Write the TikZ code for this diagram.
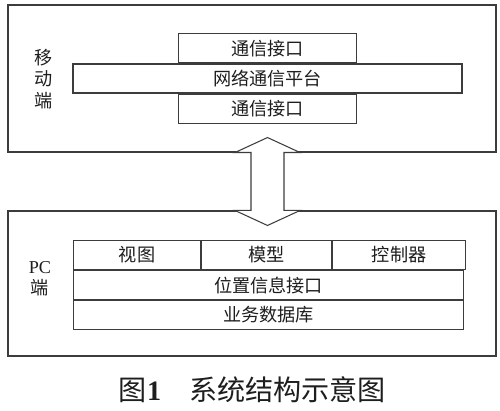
\documentclass[tikz,border=0pt]{standalone}
\usepackage{fontspec}
\setmainfont{Liberation Serif}
\newfontfamily\cjk{Noto Sans CJK SC}
\usetikzlibrary{positioning, calc}
\definecolor{FigLine}{RGB}{60, 60, 60}
\definecolor{FigText}{RGB}{30, 30, 30}

\begin{document}
\begin{tikzpicture}[y=-1cm,
    frame/.style={draw=FigLine, line width=0.9pt, fill=white, inner sep=0pt},
    layerbox/.style={draw=FigLine, line width=0.9pt, fill=white, inner sep=0pt,
      minimum height=0.87cm, text=FigText, font=\cjk\fontsize{15.5}{17}\selectfont},
    sidelabel/.style={align=center, text=FigText, font=\cjk\fontsize{15.5}{18.3}\selectfont},
    blockarrow/.style={draw=FigLine, line width=0.9pt, fill=white}
  ]
  \useasboundingbox (0,0) rectangle (15,12.33);

  % mobile side
  \node[frame, minimum width=14.64cm, minimum height=4.41cm] (mobile) at (7.56,2.355) {};
  \node[sidelabel] (mobilelbl) at (1.32,2.37) {移\\动\\端};
  \node[layerbox, minimum width=11.67cm] (plat) at (8.025,2.355) {网络通信平台};
  \node[layerbox, minimum width=5.34cm, above=0pt of plat] (ifaceup) {通信接口};
  \node[layerbox, minimum width=5.34cm, below=0pt of plat] (ifacedown) {通信接口};

  % PC side
  \node[frame, minimum width=14.64cm, minimum height=4.35cm] (pc) at (7.56,8.505) {};
  \node[sidelabel] (pclbl) at (1.2,8.37) {{\rmfamily PC}\\端};
  \node[layerbox, minimum width=3.81cm, anchor=north west] (view) at (2.19,7.2) {视图};
  \node[layerbox, minimum width=3.9cm, right=0pt of view] (model) {模型};
  \node[layerbox, minimum width=3.99cm, right=0pt of model] (ctrl) {控制器};
  \node[layerbox, minimum width=11.7cm, anchor=north west] (posi) at (view.south west) {位置信息接口};
  \node[layerbox, minimum width=11.7cm, anchor=north west] (db) at (posi.south west) {业务数据库};

  % two-way link
  \draw[blockarrow] ($(mobile.south -| plat)+(0,-0.45)$)
    -- ++(0.975,0.45) -- ++(-0.48,0) -- ($(pc.north -| plat)+(0.495,0)$)
    -- ++(0.48,0) -- ++(-0.975,0.45) -- ++(-0.975,-0.45) -- ++(0.48,0)
    -- ($(mobile.south -| plat)+(-0.495,0)$) -- ++(-0.48,0) -- cycle;

  % caption
  \node[text=FigText, font=\cjk\fontsize{24}{26}\selectfont] (caption) at (7.575,11.7)
    {图{\rmfamily\bfseries 1}\quad 系统结构示意图};
\end{tikzpicture}
\end{document}
